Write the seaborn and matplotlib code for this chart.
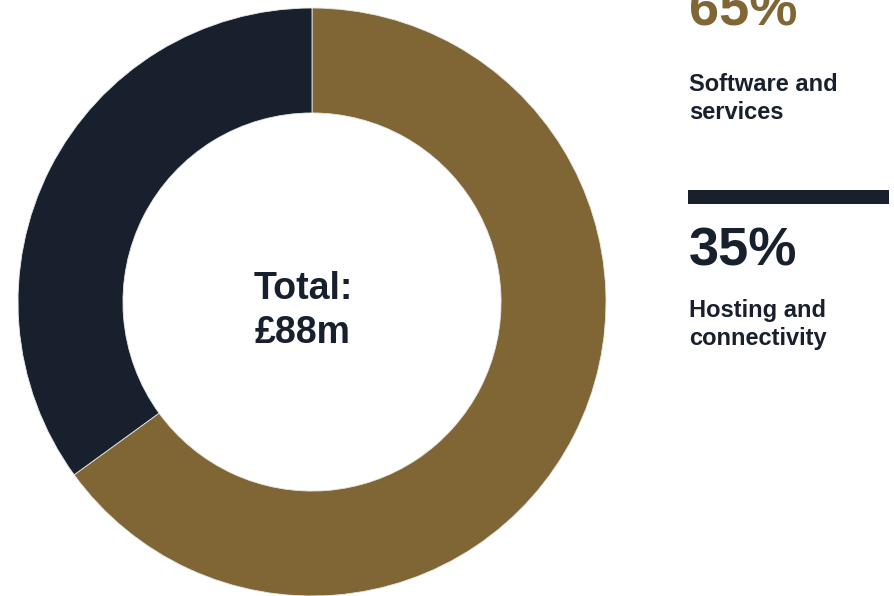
import matplotlib
matplotlib.use("Agg")
import matplotlib.pyplot as plt
from matplotlib.patches import Rectangle
import seaborn as sns

# Revenue split
segments = ["Software and\nservices", "Hosting and\nconnectivity"]
shares = [65, 35]
colors = ["#806634", "#18202D"]
total_label = "Total:\n£88m"

sns.set_theme(style="white")
plt.rcParams["font.family"] = ["Liberation Sans", "DejaVu Sans"]

W, H = 894, 596
fig = plt.figure(figsize=(W / 100, H / 100), dpi=100)
fig.patch.set_facecolor("white")

# Square axes holding the donut, centred at (312, 302) px with radius 294 px
R = 294
cx, cy = 312, 302
ax = fig.add_axes([(cx - R) / W, (H - cy - R) / H, 2 * R / W, 2 * R / H])
ax.pie(
    shares,
    colors=colors,
    startangle=90,
    counterclock=False,
    radius=1.0,
    wedgeprops=dict(width=0.357, edgecolor="#e8e8e8", linewidth=0.6),
)
ax.set_xlim(-1, 1)
ax.set_ylim(-1, 1)
ax.set_aspect("equal")
ax.axis("off")

# Centre label
for i, line in enumerate(total_label.split("\n")):
    fig.text(303 / W, 1 - (299 + 44 * i) / H, line, ha="center", va="baseline",
             fontsize=27, fontweight="bold", color="#18202D")

# Side legend: colour bar, percentage and name per segment
x0 = 689
blocks = [
    dict(bar_top=-45, pct_base=25, name_base=91),
    dict(bar_top=190, pct_base=265, name_base=317),
]
for seg, share, col, blk in zip(segments, shares, colors, blocks):
    fig.patches.append(Rectangle(((x0 - 1) / W, 1 - (blk["bar_top"] + 14) / H),
                                 201 / W, 14 / H, transform=fig.transFigure,
                                 facecolor=col, edgecolor="none"))
    fig.text(x0 / W, 1 - blk["pct_base"] / H, f"{share}%", ha="left", va="baseline",
             fontsize=39, fontweight="bold", color=col)
    for j, line in enumerate(seg.split("\n")):
        fig.text(x0 / W, 1 - (blk["name_base"] + 28 * j) / H, line, ha="left",
                 va="baseline", fontsize=17, fontweight="bold", color="#18202D")

fig.savefig("out.png", dpi=100)
